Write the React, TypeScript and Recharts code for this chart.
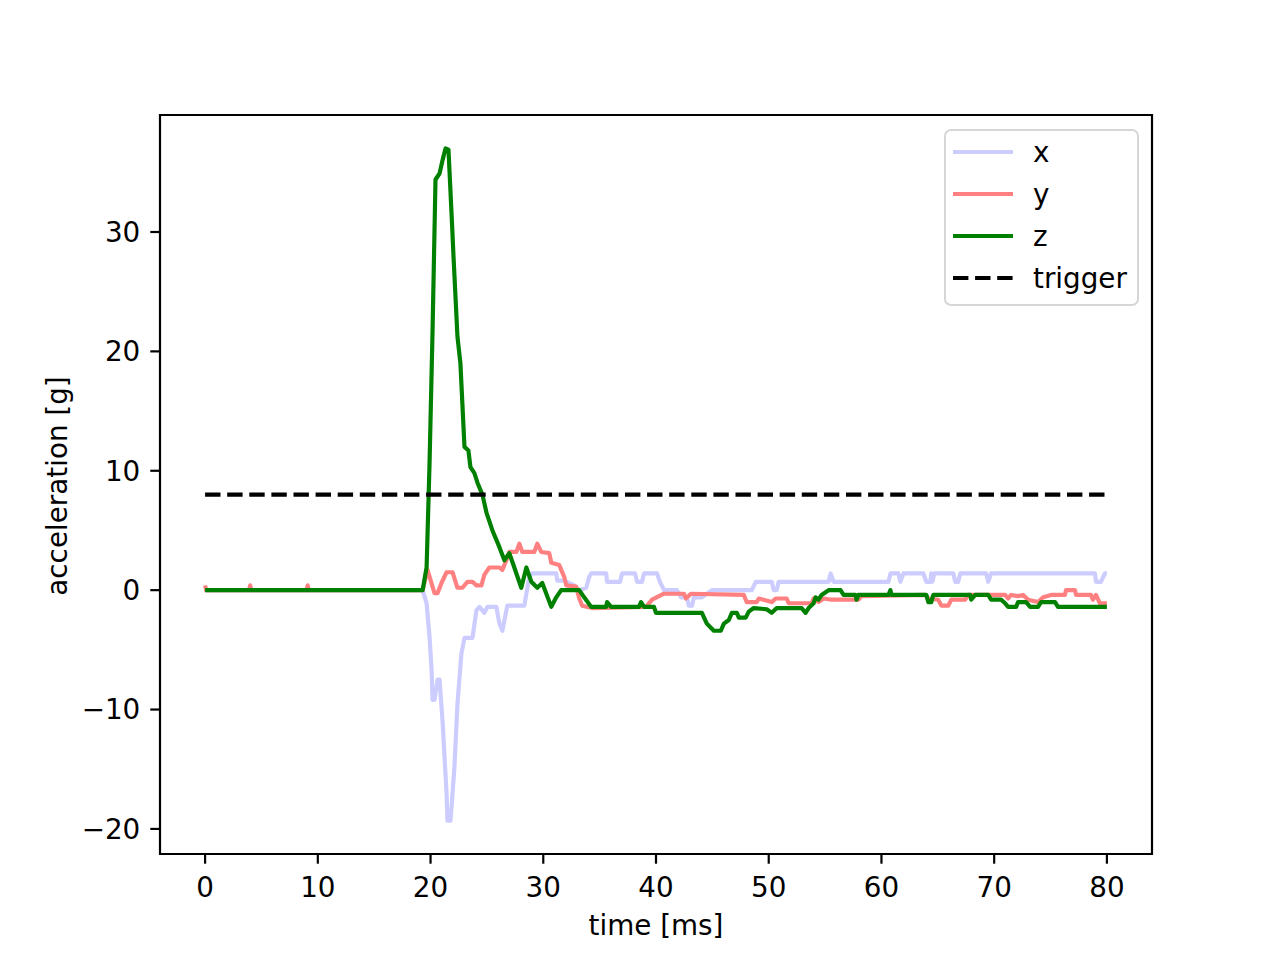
import React from 'react';
import { LineChart, Line, XAxis, YAxis, ReferenceArea, Legend } from 'recharts';

const FONT = '"DejaVu Sans", Verdana, sans-serif';
const FS = 27.8;

const xTicks = [0, 10, 20, 30, 40, 50, 60, 70, 80];
const yTicks = [-20, -10, 0, 10, 20, 30];
const seriesNames = ['x', 'y', 'z', 'trigger'];
const seriesColors = ['#ccccff', '#ff8080', '#008000', '#000000'];

// [time ms, acceleration g]
const xSeries: [number, number][] = [
  [0, 0], [19.3, 0], [19.65, -1.1], [19.91, -3.9], [20.09, -6.7], [20.18, -9.2], [20.35, -9.2], [20.62, -7.5],
  [20.8, -7.5], [21.06, -10.9], [21.42, -17.0], [21.5, -19.3], [21.77, -19.3], [21.86, -18.2], [22.12, -14.8],
  [22.39, -9.5], [22.74, -5.3], [23.01, -4.0], [23.72, -4.0], [24.07, -1.7], [24.34, -1.4], [24.78, -1.9],
  [25.04, -1.4], [25.84, -1.4], [26.11, -2.8], [26.37, -3.4], [26.73, -1.7], [26.81, -1.3], [28.32, -1.3],
  [28.5, -0.3], [28.76, 1.1], [29.03, 1.4], [31.15, 1.4], [31.24, 0.8], [31.86, 0.8], [32.74, 0.4], [33.19, 0],
  [33.81, 0.2], [34.07, 1.1], [34.25, 1.4], [35.58, 1.4], [35.66, 0.7], [36.81, 0.7], [36.99, 1.4], [38.14, 1.4],
  [38.32, 0.7], [38.76, 0.7], [38.94, 1.4], [40.09, 1.4], [40.35, 0.7], [40.71, 0], [41.86, 0], [42.21, -0.6],
  [42.74, -0.6], [42.92, -1.3], [43.19, -1.3], [43.36, -0.6], [44.07, -0.6], [44.51, -0.3], [44.96, 0], [48.5, 0],
  [48.85, 0.7], [50.27, 0.7], [50.44, 0], [50.71, 0], [50.88, 0.7], [55.31, 0.7], [55.49, 1.4], [55.75, 0.7],
  [60.62, 0.7], [60.8, 1.4], [61.5, 1.4], [61.68, 0.7], [61.95, 1.4], [63.72, 1.4], [63.98, 0.7], [64.34, 0.7],
  [64.42, 1.4], [64.51, 0.7], [64.69, 1.4], [66.37, 1.4], [66.55, 0.7], [66.81, 0.7], [66.99, 1.4], [69.29, 1.4],
  [69.47, 0.7], [69.73, 1.4], [78.94, 1.4], [79.03, 0.7], [79.47, 0.7], [79.82, 1.4], [80, 1.4],
];

const ySeries: [number, number][] = [
  [0, 0.4], [0.1, 0], [3.9, 0], [4.0, 0.4], [4.1, 0], [9.0, 0], [9.1, 0.4], [9.2, 0], [19.3, 0], [19.73, 1.7],
  [20.35, -0.25], [20.62, -0.25], [20.97, 0.6], [21.42, 1.5], [21.95, 1.5], [22.39, 0.2], [22.83, 0.2], [23.27, 0.7],
  [23.72, 0.7], [24.07, 0.4], [24.51, 0.4], [24.78, 1.3], [25.22, 1.9], [26.11, 1.9], [26.37, 1.7], [26.81, 2.7],
  [26.99, 3.2], [27.61, 3.2], [27.88, 3.9], [28.14, 3.2], [29.2, 3.2], [29.47, 3.9], [29.82, 3.2], [30.53, 3.1],
  [30.71, 2.3], [31.42, 2.1], [31.86, 1.1], [32.04, 0.4], [32.92, 0.3], [33.19, -0.7], [33.45, -1.3], [34.34, -1.5],
  [39.12, -1.4], [39.65, -0.8], [40.71, -0.3], [42.48, -0.3], [42.65, -0.7], [43.1, -0.3], [47.79, -0.4],
  [48.05, -1.0], [48.94, -1.0], [49.12, -0.7], [50.27, -1.0], [50.62, -0.7], [51.59, -0.7], [51.77, -1.1],
  [53.81, -1.1], [53.98, -0.7], [54.42, -1.0], [54.87, -0.7], [55.58, -0.8], [57.96, -0.8], [58.23, -0.5],
  [63.89, -0.4], [64.16, -0.7], [65.04, -0.8], [65.31, -1.3], [65.93, -1.3], [66.19, -0.8], [67.43, -0.8],
  [67.7, -0.4], [70.97, -0.4], [71.24, -0.7], [71.5, -0.4], [72.12, -0.5], [72.57, -0.4], [73.01, -0.8],
  [73.89, -1.0], [74.34, -0.6], [75.04, -0.4], [76.28, -0.4], [76.37, 0], [77.17, 0], [77.26, -0.4], [78.58, -0.4],
  [78.76, -0.8], [79.03, -0.4], [79.38, -1.1], [80, -1.1],
];

const zSeries: [number, number][] = [
  [0, 0], [19.3, 0], [19.65, 1.9], [19.91, 10.6], [20.18, 21.8], [20.44, 34.4], [20.8, 34.9], [21.06, 36.0],
  [21.33, 37.0], [21.59, 36.9], [21.86, 31.6], [22.04, 27.9], [22.39, 21.2], [22.65, 19.0], [23.01, 12.0],
  [23.36, 11.7], [23.54, 10.3], [23.89, 9.8], [24.16, 9.0], [24.6, 8.0], [24.96, 6.5], [25.49, 5.0], [26.11, 3.6],
  [26.55, 2.5], [26.99, 3.1], [27.43, 1.9], [28.05, 0.2], [28.5, 1.9], [28.94, 0.7], [29.47, 0.2], [29.91, 0.6],
  [30.71, -1.4], [31.15, -0.6], [31.59, 0], [33.19, 0], [33.63, -0.6], [34.25, -1.4], [35.58, -1.4], [35.66, -1.0],
  [36.02, -1.4], [38.5, -1.4], [38.67, -1.0], [38.94, -1.4], [39.82, -1.4], [40.0, -1.9], [44.07, -1.9],
  [44.51, -2.8], [45.13, -3.4], [45.75, -3.4], [46.02, -2.8], [46.46, -2.5], [46.73, -1.9], [47.17, -1.9],
  [47.35, -2.3], [47.96, -2.3], [48.23, -1.8], [48.67, -1.5], [49.82, -1.6], [50.27, -1.9], [50.71, -1.5],
  [52.92, -1.5], [53.27, -1.9], [53.54, -1.5], [53.98, -1.1], [54.16, -0.6], [54.42, -0.8], [54.69, -0.4],
  [55.31, 0], [56.37, 0], [56.64, -0.4], [57.7, -0.4], [57.79, -0.8], [57.96, -0.4], [60.62, -0.4], [60.8, 0],
  [60.88, -0.4], [63.98, -0.4], [64.16, -1.0], [64.42, -1.0], [64.6, -0.4], [67.88, -0.4], [67.96, -0.8],
  [68.32, -0.4], [69.47, -0.4], [69.73, -0.8], [70.62, -0.8], [70.97, -1.1], [71.24, -1.4], [71.95, -1.4],
  [72.12, -1.0], [72.83, -1.0], [73.19, -1.4], [73.89, -1.4], [74.16, -1.0], [75.4, -1.0], [75.66, -1.4], [80, -1.4],
];

const triggerSeries: [number, number][] = [[0, 8], [80, 8]];

const toRows = (pts: [number, number][]) => pts.map(([t, v]) => ({ t, v }));

const fmtY = (v: number) => (v < 0 ? '\u2212' + Math.abs(v) : String(v));

const LW = 4.17;
const DASH = '15.4 6.7';

const renderLegend = () => {
  const rowsLine = [23, 65, 107, 149];
  const rowsText = [33, 75, 117, 159];
  return (
    <div
      style={{
        width: 195,
        height: 177,
        boxSizing: 'border-box',
        border: '2px solid #d6d6d6',
        borderRadius: 7,
        background: 'rgba(255,255,255,0.8)',
        position: 'relative',
      }}
    >
      <svg width={195} height={177} style={{ position: 'absolute', left: -2, top: -2 }}>
        {seriesNames.map((name, i) => (
          <g key={name}>
            <line
              x1={9}
              x2={69}
              y1={rowsLine[i]}
              y2={rowsLine[i]}
              stroke={seriesColors[i]}
              strokeWidth={LW}
              strokeDasharray={name === 'trigger' ? DASH : undefined}
            />
            <text x={89} y={rowsText[i]} fontFamily={FONT} fontSize={FS} fill="#000">
              {name}
            </text>
          </g>
        ))}
      </svg>
    </div>
  );
};

export default function App() {
  const tickStyle = { fill: '#000', fontSize: FS, fontFamily: FONT };
  return (
    <div style={{ position: 'absolute', left: 0, top: 0, width: 1280, height: 960, background: '#fff' }}>
      <LineChart width={1280} height={960} margin={{ top: 115, right: 128, bottom: 46, left: 80 }}>
        <XAxis
          type="number"
          dataKey="t"
          domain={[-4, 84]}
          allowDataOverflow
          ticks={xTicks}
          interval={0}
          height={60}
          tickSize={9.7}
          tickMargin={14}
          axisLine={false}
          tickLine={{ stroke: '#000', strokeWidth: 2.2 }}
          tick={tickStyle}
        />
        <YAxis
          type="number"
          dataKey="v"
          domain={[-22.1, 39.8]}
          allowDataOverflow
          ticks={yTicks}
          interval={0}
          width={80}
          tickSize={9.7}
          tickMargin={10}
          axisLine={false}
          tickLine={{ stroke: '#000', strokeWidth: 2.2 }}
          tick={tickStyle}
          tickFormatter={fmtY}
        />
        <ReferenceArea
          x1={-4}
          x2={84}
          y1={-22.1}
          y2={39.8}
          fill="none"
          fillOpacity={0}
          stroke="#000"
          strokeWidth={2.2}
          ifOverflow="visible"
        />
        <Line
          data={toRows(xSeries)}
          dataKey="v"
          name="x"
          type="linear"
          stroke={seriesColors[0]}
          strokeWidth={LW}
          strokeLinejoin="round"
          dot={false}
          activeDot={false}
          isAnimationActive={false}
        />
        <Line
          data={toRows(ySeries)}
          dataKey="v"
          name="y"
          type="linear"
          stroke={seriesColors[1]}
          strokeWidth={LW}
          strokeLinejoin="round"
          dot={false}
          activeDot={false}
          isAnimationActive={false}
        />
        <Line
          data={toRows(zSeries)}
          dataKey="v"
          name="z"
          type="linear"
          stroke={seriesColors[2]}
          strokeWidth={LW}
          strokeLinejoin="round"
          dot={false}
          activeDot={false}
          isAnimationActive={false}
        />
        <Line
          data={toRows(triggerSeries)}
          dataKey="v"
          name="trigger"
          type="linear"
          stroke={seriesColors[3]}
          strokeWidth={LW}
          strokeDasharray={DASH}
          dot={false}
          activeDot={false}
          isAnimationActive={false}
        />
        <Legend
          layout="vertical"
          align="center"
          verticalAlign="middle"
          content={renderLegend}
          wrapperStyle={{ position: 'absolute', left: 944, top: 129, width: 195, height: 177 }}
        />
      </LineChart>
      <div
        style={{
          position: 'absolute',
          left: 656,
          top: 912,
          transform: 'translateX(-50%)',
          fontFamily: FONT,
          fontSize: FS,
          lineHeight: 1,
          whiteSpace: 'nowrap',
          color: '#000',
        }}
      >
        time [ms]
      </div>
      <div
        style={{
          position: 'absolute',
          left: 58,
          top: 486,
          transform: 'translate(-50%, -50%) rotate(-90deg)',
          fontFamily: FONT,
          fontSize: FS,
          lineHeight: 1,
          whiteSpace: 'nowrap',
          color: '#000',
        }}
      >
        acceleration [g]
      </div>
    </div>
  );
}
